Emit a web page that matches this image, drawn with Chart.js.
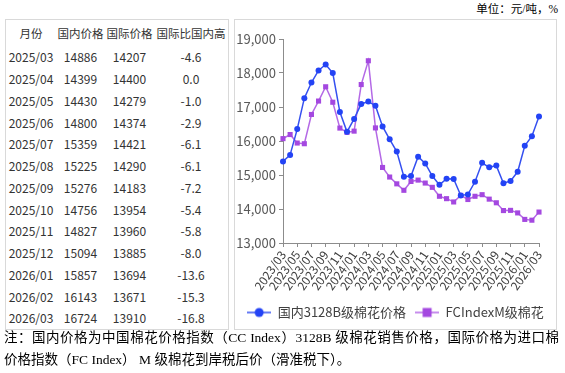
<!DOCTYPE html>
<html>
<head>
<meta charset="utf-8">
<script src="https://cdn.jsdelivr.net/npm/chart.js@4"></script>
<style>
  html, body { margin:0; padding:0; background:#fff; }
  body { width:565px; height:373px; position:relative; overflow:hidden; }
  #unit { position:absolute; right:7px; top:0px; font-family:"Liberation Serif","Noto Sans CJK SC",serif; font-size:11.5px; color:#000; white-space:nowrap; }
  #tbl { position:absolute; left:5px; top:19px; width:224px; height:311px; box-sizing:border-box; border:1px solid #d9d9d9; }
  #tbl table { border-collapse:collapse; table-layout:fixed; width:222px; font-family:"Noto Sans CJK SC",sans-serif; font-size:12px; color:#333; }
  #tbl td { padding:0; text-align:center; white-space:nowrap; overflow:visible; }
  #tbl tr.h td { height:26px; font-size:11.5px; }
  #tbl tr.r td { height:21.75px; }
  #box { position:absolute; left:234px; top:19px; width:323px; height:311px; box-sizing:border-box; border:1px solid #d9d9d9; }
  #cw { position:absolute; left:0; top:0; width:321px; height:309px; }
  #note { position:absolute; left:4px; top:327px; width:555px; font-family:"Liberation Serif","Noto Sans CJK SC",serif; font-size:13.5px; line-height:22px; color:#000; }
  #note .l1 { text-align:justify; text-align-last:justify; white-space:nowrap; }
</style>
</head>
<body>
<div id="unit">单位：元/吨，%</div>
<div id="tbl"><table id="t">
  <colgroup><col style="width:50px"><col style="width:49px"><col style="width:49px"><col style="width:74px"></colgroup>
  <tbody id="tb"></tbody>
</table></div>
<div id="box"><div id="cw"><canvas id="c"></canvas></div></div>
<div id="note">
  <div class="l1">注：国内价格为中国棉花价格指数（CC Index）3128B 级棉花销售价格，国际价格为进口棉</div>
  <div>价格指数（FC Index） M 级棉花到岸税后价（滑准税下）。</div>
</div>
<script>
// ---- data ----
const months = ["2023/03","2023/04","2023/05","2023/06","2023/07","2023/08","2023/09","2023/10","2023/11","2023/12",
  "2024/01","2024/02","2024/03","2024/04","2024/05","2024/06","2024/07","2024/08","2024/09","2024/10","2024/11","2024/12",
  "2025/01","2025/02","2025/03","2025/04","2025/05","2025/06","2025/07","2025/08","2025/09","2025/10","2025/11","2025/12",
  "2026/01","2026/02","2026/03"];
const domestic = [15400,15590,16350,17260,17720,18076,18250,18000,16850,16270,
  16650,17090,17160,17040,16430,16050,15690,14950,14970,15540,15340,14970,
  14710,14890,14886,14399,14430,14800,15359,15225,15276,14756,14827,15094,
  15857,16143,16724];
const international = [16070,16190,15940,15920,16780,17175,17595,17140,16380,16254,
  16290,17660,18360,16385,15222,14940,14740,14550,14810,14850,14763,14637,
  14374,14304,14207,14400,14279,14374,14421,14290,14183,13954,13960,13885,
  13694,13671,13910];
const tableHeader = ["月份","国内价格","国际价格","国际比国内高"];
const tableMonths = ["2025/03","2025/04","2025/05","2025/06","2025/07","2025/08","2025/09","2025/10","2025/11","2025/12","2026/01","2026/02","2026/03"];
const tableDomestic = [14886,14399,14430,14800,15359,15225,15276,14756,14827,15094,15857,16143,16724];
const tableInternational = [14207,14400,14279,14374,14421,14290,14183,13954,13960,13885,13694,13671,13910];
const tableDiff = ["-4.6","0.0","-1.0","-2.9","-6.1","-6.1","-7.2","-5.4","-5.8","-8.0","-13.6","-15.3","-16.8"];
const seriesNames = ["国内3128B级棉花价格","FCIndexM级棉花"];
const yTicks = { min:13000, max:19000, step:1000 };

// ---- table ----
const tb = document.getElementById('tb');
let html = '<tr class="h">' + tableHeader.map(h => '<td>' + h + '</td>').join('') + '</tr>';
tableMonths.forEach((m, i) => {
  html += '<tr class="r"><td>' + m + '</td><td>' + tableDomestic[i] + '</td><td>' + tableInternational[i] + '</td><td>' + tableDiff[i] + '</td></tr>';
});
tb.innerHTML = html;

// ---- chart ----
const BLUE = '#2343f5', BLUE_LINE = '#3550f0';
const PURPLE = '#a448e0', PURPLE_LINE = '#b469e6';
const AXIS = '#8c8c8c';
const FONT = '"Noto Sans CJK SC", sans-serif';

function legendIcon(color, lineColor, shape) {
  const cv = document.createElement('canvas');
  cv.width = 24; cv.height = 12;
  const g = cv.getContext('2d');
  g.strokeStyle = lineColor; g.lineWidth = 1.5;
  g.beginPath(); g.moveTo(0, 6); g.lineTo(24, 6); g.stroke();
  g.fillStyle = color;
  if (shape === 'circle') { g.beginPath(); g.arc(12, 6, 4.5, 0, Math.PI * 2); g.fill(); }
  else { g.fillRect(7.5, 1.5, 9, 9); }
  return cv;
}
const icons = [legendIcon(BLUE, BLUE_LINE, 'circle'), legendIcon(PURPLE, PURPLE_LINE, 'rect')];

new Chart(document.getElementById('c'), {
  type: 'line',
  data: {
    labels: months,
    datasets: [
      { label: seriesNames[0], data: domestic, borderColor: BLUE_LINE, backgroundColor: BLUE,
        pointBackgroundColor: BLUE, pointBorderColor: BLUE, pointStyle: 'circle', pointRadius: 3, pointBorderWidth: 0,
        borderWidth: 1.5, tension: 0 },
      { label: seriesNames[1], data: international, borderColor: PURPLE_LINE, backgroundColor: PURPLE,
        pointBackgroundColor: PURPLE, pointBorderColor: PURPLE, pointStyle: 'rect', pointRadius: 3.6, pointBorderWidth: 0,
        borderWidth: 1.5, tension: 0 }
    ]
  },
  options: {
    responsive: true, maintainAspectRatio: false, animation: false,
    layout: { padding: { left: 0, right: 0, top: 19, bottom: 0 } },
    plugins: {
      tooltip: { enabled: false },
      legend: {
        position: 'bottom',
        labels: {
          usePointStyle: true, pointStyleWidth: 24, padding: 9,
          color: '#404040', font: { family: FONT, size: 13 },
          generateLabels: (chart) => {
            const items = Chart.defaults.plugins.legend.labels.generateLabels(chart);
            items.forEach((it, i) => { it.pointStyle = icons[i]; });
            return items;
          }
        }
      }
    },
    scales: {
      x: {
        offset: false,
        grid: { drawOnChartArea: false, offset: false, tickLength: 4,
          color: (ctx) => (ctx.index % 2 === 0 ? AXIS : 'rgba(0,0,0,0)') },
        border: { color: AXIS, width: 1 },
        ticks: { autoSkip: false, minRotation: 55, maxRotation: 55, padding: 1,
          color: '#404040', font: { family: FONT, size: 12 },
          callback: function (v, i) { return i % 2 === 0 ? months[i] : ''; } },
        afterFit: (s) => { s.height = 54; }
      },
      y: {
        min: yTicks.min, max: yTicks.max,
        grid: { drawOnChartArea: false, tickLength: 4, color: AXIS },
        border: { color: AXIS, width: 1 },
        ticks: { stepSize: yTicks.step, padding: 3, color: '#595959', font: { family: FONT, size: 13 },
          callback: (v) => v.toLocaleString('en-US') },
        afterFit: (s) => { s.width = 48; }
      },
      yRightSpace: {
        position: 'right', display: true, min: 0, max: 1,
        grid: { display: false, drawTicks: false }, border: { display: false },
        ticks: { display: false },
        afterFit: (s) => { s.width = 17; }
      }
    }
  }
});
</script>
</body>
</html>
